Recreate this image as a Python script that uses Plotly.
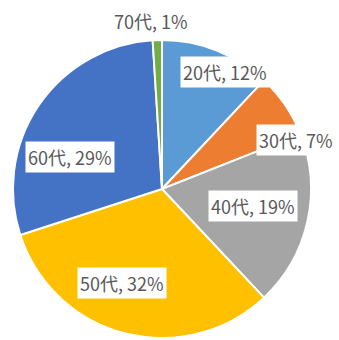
import plotly.graph_objects as go

# Age-group breakdown
age_groups = ["20代", "30代", "40代", "50代", "60代", "70代"]
shares = [12, 7, 19, 32, 29, 1]
colors = ["#5B9BD5", "#ED7D31", "#A5A5A5", "#FFC000", "#4472C4", "#70AD47"]

# Label centres in pixels (x, y from top-left) and whether a white box is drawn
label_pos = [(225, 72), (296, 140), (253, 206), (122, 283), (70, 157), (151, 21)]
label_box = [True, True, True, True, True, False]

W, H = 339, 340
cx, cy, r = 162, 189, 149

fig = go.Figure(
    go.Pie(
        labels=age_groups,
        values=shares,
        sort=False,
        direction="clockwise",
        rotation=0,
        marker=dict(colors=colors, line=dict(color="white", width=2)),
        textinfo="none",
        hoverinfo="label+percent",
        domain=dict(x=[(cx - r) / W, (cx + r) / W], y=[1 - (cy + r) / H, 1 - (cy - r) / H]),
        showlegend=False,
    )
)

font = dict(family="Noto Sans CJK JP, sans-serif", size=18, color="#595959")
for name, val, (px, py), box in zip(age_groups, shares, label_pos, label_box):
    fig.add_annotation(
        x=px / W,
        y=1 - py / H,
        xref="paper",
        yref="paper",
        text=f"{name}, {val}%",
        showarrow=False,
        font=font,
        bgcolor="white" if box else "rgba(0,0,0,0)",
        borderpad=2,
        xanchor="center",
        yanchor="middle",
    )

fig.update_layout(
    width=W,
    height=H,
    margin=dict(l=0, r=0, t=0, b=0),
    paper_bgcolor="white",
    plot_bgcolor="white",
)

fig.write_html("out.html")
